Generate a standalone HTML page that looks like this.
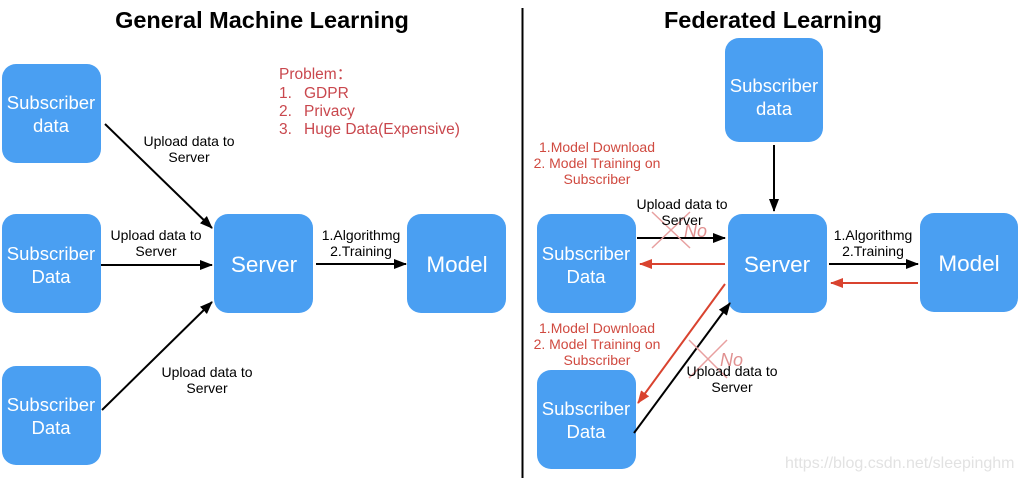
<!DOCTYPE html>
<html><head><meta charset="utf-8"><style>
html,body{margin:0;padding:0;background:#fff;}
svg{display:block;font-family:"Liberation Sans",sans-serif;}
</style></head><body>
<svg width="1021" height="479" viewBox="0 0 1021 479" xmlns="http://www.w3.org/2000/svg">
<defs>
<marker id="ab" markerWidth="13" markerHeight="10" refX="12" refY="5" orient="auto" markerUnits="userSpaceOnUse"><path d="M0,0 L13,5 L0,10 z" fill="#000"/></marker>
<marker id="ar" markerWidth="13" markerHeight="10" refX="12" refY="5" orient="auto" markerUnits="userSpaceOnUse"><path d="M0,0 L13,5 L0,10 z" fill="#d9432f"/></marker>
</defs>
<text x="262" y="28" font-size="23.5" font-weight="bold" text-anchor="middle">General Machine Learning</text>
<text x="773" y="28" font-size="23.5" font-weight="bold" text-anchor="middle">Federated Learning</text>
<line x1="522.5" y1="8" x2="522.5" y2="478" stroke="#000" stroke-width="2"/>
<g fill="#4a9ff2">
<rect x="2" y="64" width="99" height="99" rx="14"/>
<rect x="2" y="214" width="99" height="99" rx="14"/>
<rect x="2" y="366" width="99" height="99" rx="14"/>
<rect x="214" y="214" width="99" height="99" rx="14"/>
<rect x="407" y="214" width="99" height="99" rx="14"/>
<rect x="725" y="38" width="98" height="104" rx="14"/>
<rect x="537" y="214" width="99" height="99" rx="14"/>
<rect x="537" y="370" width="99" height="99" rx="14"/>
<rect x="728" y="214" width="99" height="99" rx="14"/>
<rect x="920" y="213" width="98" height="99" rx="14"/>
</g>
<g fill="#fff" font-size="18.5" text-anchor="middle">
<text x="51" y="109">Subscriber</text><text x="51" y="132">data</text>
<text x="51" y="260">Subscriber</text><text x="51" y="283">Data</text>
<text x="51" y="411">Subscriber</text><text x="51" y="434">Data</text>
<text x="774" y="92">Subscriber</text><text x="774" y="115">data</text>
<text x="586" y="260">Subscriber</text><text x="586" y="283">Data</text>
<text x="586" y="415">Subscriber</text><text x="586" y="438">Data</text>
<g font-size="22.5"><text x="264" y="272">Server</text><text x="457" y="272">Model</text>
<text x="777" y="272">Server</text><text x="969" y="271">Model</text></g>
</g>
<g stroke="#000" stroke-width="2" fill="none">
<line x1="105" y1="124" x2="212" y2="228" marker-end="url(#ab)"/>
<line x1="101" y1="265" x2="212" y2="265" marker-end="url(#ab)"/>
<line x1="102" y1="410" x2="212" y2="302" marker-end="url(#ab)"/>
<line x1="316" y1="264" x2="406" y2="264" marker-end="url(#ab)"/>
<line x1="774" y1="145" x2="774" y2="211" marker-end="url(#ab)"/>
<line x1="637" y1="238" x2="725" y2="238" marker-end="url(#ab)"/>
<line x1="829" y1="264" x2="918" y2="264" marker-end="url(#ab)"/>
<line x1="634" y1="433" x2="730" y2="303" marker-end="url(#ab)"/>
</g>
<g stroke="#d9432f" stroke-width="2" fill="none">
<line x1="725" y1="264" x2="640" y2="264" marker-end="url(#ar)"/>
<line x1="918" y1="283" x2="831" y2="283" marker-end="url(#ar)"/>
<line x1="725" y1="284" x2="638" y2="403" marker-end="url(#ar)"/>
</g>
<g stroke="#e8a0a0" stroke-width="1.5">
<line x1="652" y1="212" x2="690" y2="248"/><line x1="690" y1="212" x2="652" y2="248"/>
<line x1="689" y1="340" x2="727" y2="378"/><line x1="727" y1="340" x2="689" y2="378"/>
</g>
<g fill="#e09090" font-size="18" font-style="italic"><text x="684" y="237">No</text><text x="720" y="366">No</text></g>
<g font-size="14" text-anchor="middle" fill="#000">
<text x="189" y="146">Upload data to</text><text x="189" y="162">Server</text>
<text x="156" y="240">Upload data to</text><text x="156" y="256">Server</text>
<text x="207" y="377">Upload data to</text><text x="207" y="393">Server</text>
<text x="361" y="240">1.Algorithmg</text><text x="361" y="256">2.Training</text>
<text x="682" y="209">Upload data to</text><text x="682" y="225">Server</text>
<text x="873" y="240">1.Algorithmg</text><text x="873" y="256">2.Training</text>
<text x="732" y="376">Upload data to</text><text x="732" y="392">Server</text>
</g>
<g font-size="14" text-anchor="middle" fill="#d04a40">
<text x="597" y="152">1.Model Download</text><text x="597" y="168">2. Model Training on</text><text x="597" y="184">Subscriber</text>
<text x="597" y="333">1.Model Download</text><text x="597" y="349">2. Model Training on</text><text x="597" y="365">Subscriber</text>
</g>
<g font-size="15.5" fill="#c9474d">
<text x="279" y="79">Problem：</text>
<text x="279" y="98">1.</text><text x="304" y="98">GDPR</text>
<text x="279" y="116">2.</text><text x="304" y="116">Privacy</text>
<text x="279" y="134">3.</text><text x="304" y="134">Huge Data(Expensive)</text>
</g>
<text x="785" y="468" font-size="16" fill="#e2e2e2">https://blog.csdn.net/sleepinghm</text>
</svg>
</body></html>
